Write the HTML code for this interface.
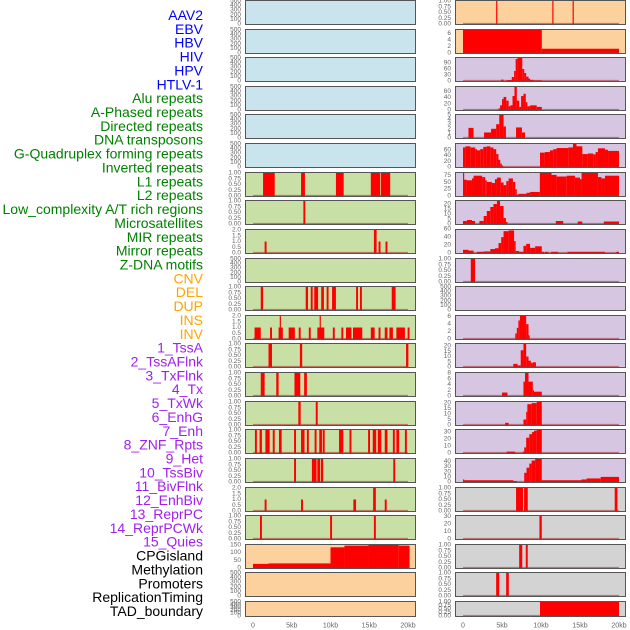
<!DOCTYPE html>
<html><head><meta charset="utf-8"><style>
html,body{margin:0;padding:0;background:#fff;}
svg{display:block;font-family:"Liberation Sans",sans-serif;}
</style></head><body>
<svg id="chart" width="630" height="630" viewBox="0 0 630 630"></svg>
<script>
const trackLabels=["AAV2","EBV","HBV","HIV","HPV","HTLV-1","Alu repeats","A-Phased repeats","Directed repeats","DNA transposons","G-Quadruplex forming repeats","Inverted repeats","L1 repeats","L2 repeats","Low_complexity A/T rich regions","Microsatellites","MIR repeats","Mirror repeats","Z-DNA motifs","CNV","DEL","DUP","INS","INV","1_TssA","2_TssAFlnk","3_TxFlnk","4_Tx","5_TxWk","6_EnhG","7_Enh","8_ZNF_Rpts","9_Het","10_TssBiv","11_BivFlnk","12_EnhBiv","13_ReprPC","14_ReprPCWk","15_Quies","CPGisland","Methylation","Promoters","ReplicationTiming","TAD_boundary"];
const labelGroups=[6,13,5,15,5];
const xTickLabels=["0","5kb","10kb","15kb","20kb"];
const xTickValues=[0,5,10,15,20];
const t500=["0","100","200","300","400","500"];
const t1=["0.00","0.25","0.50","0.75","1.00"];
const t2=["0.0","0.5","1.0","1.5","2.0"];
const L6=[[1.3,2.8,1],[6.2,6.7,1],[10.7,11.7,1],[15.2,16.4,1],[16.5,17.7,1]];
const L7=[[6.5,6.75,1]];
const L8=[[1.5,1.75,1],[15.6,15.95,2],[16.2,16.45,1],[17.1,17.35,1]];
const L10=[[1.0,1.3,1],[6.8,7.1,1],[7.45,7.7,1],[7.9,8.4,1],[8.8,9.15,1],[9.5,9.75,1],[10.2,10.7,1],[13.3,13.55,1],[13.8,14.05,1],[17.9,18.4,1]];
const L11=[[0.2,1.0,1],[2.2,2.45,1],[3.3,3.85,1],[3.45,3.55,2],[4.6,5.4,1],[5.9,6.15,1],[7.2,7.45,1],[8.3,9.2,1],[8.6,8.7,2],[10.3,10.55,1],[11.4,11.65,1],[12.0,12.7,1],[12.9,14.1,1],[15.2,15.7,1],[16.2,16.45,1],[17.0,17.35,1],[17.6,18.05,1],[18.5,19.6,1],[19.95,20.2,1]];
const L12=[[2.0,2.45,1],[6.05,6.35,1],[19.75,20.05,1]];
const L13=[[1.0,1.5,1],[3.0,3.3,1],[5.35,6.1,1],[6.6,6.95,1]];
const L14=[[5.85,6.15,1],[8.1,8.35,1]];
const L15=[[0.25,0.5,1],[0.85,1.15,1],[1.6,2.15,1],[2.55,2.8,1],[3.35,3.7,1],[5.3,5.55,1],[6.2,6.65,1],[6.95,7.2,1],[7.95,8.2,1],[8.55,8.9,1],[9.0,9.25,1],[11.1,11.65,1],[12.45,12.7,1],[14.85,15.1,1],[15.45,15.9,1],[16.1,16.55,1],[17.0,17.35,1],[18.05,18.3,1],[18.5,18.85,1],[19.6,19.85,1]];
const L16=[[5.3,5.55,1],[7.6,8.2,1],[8.3,8.65,1],[8.75,9.05,1],[18.1,18.35,1]];
const L17=[[1.5,1.75,1],[6.2,6.45,1],[12.95,13.3,1],[15.5,15.85,2],[17.0,17.25,1]];
const L18=[[0.9,1.15,1],[9.95,10.2,1],[15.6,15.85,1]];
const L19=[[0,2,27],[2,10,30],[10,11.8,135],[11.8,14.9,146],[14.9,18.8,150],[18.8,20.2,146]];
const R0=[[4.25,4.4,1],[11.45,11.6,1],[14.05,14.2,1]];
const R1=[[0,10.1,7],[10.1,20,1.3]];
const R2=[[4.9,5.2,7],[5.5,5.75,3],[5.75,6.25,5],[6.25,6.55,20],[6.55,6.75,50],[6.75,7.0,110],[7.0,7.6,115],[7.6,7.85,60],[7.85,8.1,40],[8.1,8.4,22],[8.4,8.6,12],[8.6,9.0,6],[9.0,10.1,3]];
const R3=[[4.55,4.75,5],[4.75,5.0,15],[5.0,5.2,35],[5.2,5.55,42],[5.55,5.85,30],[5.85,6.05,12],[6.05,6.35,15],[6.35,6.6,45],[6.6,6.9,74],[6.9,7.2,30],[7.2,7.45,10],[7.45,7.75,45],[7.75,8.05,52],[8.05,8.25,25],[8.25,8.6,12],[8.6,9.45,15],[9.45,10.1,10]];
const R4=[[0.7,1.35,2.2],[2.7,3.6,1.2],[3.6,4.25,2],[4.25,4.65,3],[4.65,5.2,5],[5.2,5.5,2.5],[6.8,7.55,2.3],[7.55,7.95,1.2]];
const R5=[[0,0.3,68],[0.3,0.94,72],[0.94,1.57,68],[1.57,1.8,62],[1.8,2.2,58],[2.2,2.6,62],[2.6,3.06,70],[3.06,3.5,72],[3.5,3.9,68],[3.9,4.26,62],[4.26,4.55,45],[4.55,4.77,25],[4.77,4.98,12],[4.98,5.15,5],[9.87,10.5,50],[10.5,11.15,52],[11.15,11.57,58],[11.57,12.0,62],[12.0,13.5,66],[13.5,14.1,68],[14.1,14.55,80],[14.55,15.3,72],[15.3,16.0,45],[16.0,16.7,47],[16.7,17.0,44],[17.0,17.3,52],[17.3,18.2,65],[18.2,18.6,60],[18.6,20,56]];
const R6=[[0,0.1,85],[0.1,0.5,60],[0.5,1.15,58],[1.15,1.35,65],[1.35,2.45,75],[2.45,2.85,70],[2.85,3.05,58],[3.05,3.7,52],[3.7,4.1,48],[4.1,4.35,62],[4.35,4.85,68],[4.85,5.2,50],[5.2,5.55,40],[5.55,5.85,55],[5.85,6.4,65],[6.4,6.7,52],[6.7,6.9,25],[6.9,7.1,5],[7.1,8.15,8],[8.15,8.6,12],[8.6,9.85,15],[9.85,11.35,85],[11.35,12.0,78],[12.0,13.3,72],[13.3,14.35,75],[14.35,15.0,68],[15.0,15.2,62],[15.2,17.3,85],[17.3,17.75,70],[17.75,18.2,65],[18.2,20,75]];
const R7=[[0,0.5,3],[0.5,1.15,4],[1.15,1.55,3],[2.1,2.65,3],[2.65,3.05,8],[3.05,3.5,13],[3.5,3.9,17],[3.9,4.35,20],[4.35,4.75,23],[4.75,5.2,18],[5.2,5.5,6],[5.5,5.7,2],[11.9,12.85,3],[14.7,15.3,2.5],[18.05,20,2.5]];
const R8=[[0,0.7,8],[0.7,1.35,6],[1.8,2.65,3],[2.65,3.5,4],[3.5,4.1,10],[4.1,4.55,12],[4.55,4.9,25],[4.9,5.2,40],[5.2,5.85,55],[5.85,6.55,57],[6.55,6.75,30],[6.75,7.2,5],[7.2,7.75,3],[7.75,8.1,18],[8.1,8.6,23],[8.6,9.25,13],[9.25,10.1,17],[10.1,10.4,3],[10.5,10.95,3],[11.3,12.2,3],[13.4,18.2,3],[19.65,20,3]];
const R9=[[1.0,1.55,1]];
const R11=[[6.7,6.9,1.5],[6.9,7.1,3],[7.1,7.3,5],[7.3,8.1,6.2],[8.1,8.4,4],[8.4,8.5,1]];
const R12=[[6.45,7.0,3],[7.0,7.4,1.5],[7.4,7.75,16],[7.75,8.1,22],[8.1,8.4,10],[8.4,8.7,6],[8.7,8.95,4],[8.95,9.35,4.5]];
const R13=[[5.0,5.7,1.2],[7.75,7.95,5],[7.95,8.4,8],[8.4,8.95,5],[8.95,9.1,2],[9.1,10.1,1.5]];
const R14=[[5.4,5.85,2],[7.75,8.1,5],[8.1,8.25,12],[8.25,8.8,19],[8.8,9.45,20],[9.45,10.1,21]];
const R15=[[5.6,6.7,2],[7.65,7.85,2],[7.85,8.1,8],[8.1,8.5,22],[8.5,8.85,27],[8.85,9.1,30],[9.1,9.45,32],[9.45,10.1,33]];
const R16=[[0,0.1,5],[0.1,6.45,3.5],[6.45,6.9,2],[7.85,8.15,18],[8.15,8.5,28],[8.5,8.8,36],[8.8,9.25,42],[9.25,10.1,45],[10.1,15.2,3.5],[15.2,15.85,5],[15.85,17.65,7],[17.65,20,10]];
const R17=[[6.8,7.7,1],[7.83,8.3,1],[19.45,19.8,1]];
const R18=[[9.8,10.1,30.4]];
const R19=[[7.2,7.6,1],[8.05,8.3,1]];
const R20=[[4.25,4.64,1],[5.53,5.87,1]];
const R21=[[9.87,20,1]];

const C={blue:"#c9e4ec",green:"#c8e0a6",orange:"#fdd19e",purple:"#d6c6e2",grey:"#d3d3d3"};
const E=null;
const leftPanels=[
 [C.blue,t500,500,E],[C.blue,t500,500,E],[C.blue,t500,500,E],[C.blue,t500,500,E],[C.blue,t500,500,E],[C.blue,t500,500,E],
 [C.green,t1,1,L6],[C.green,t1,1,L7],[C.green,t2,2,L8],[C.green,t500,500,E],[C.green,t1,1,L10],[C.green,t2,2,L11],
 [C.green,t1,1,L12],[C.green,t1,1,L13],[C.green,t1,1,L14],[C.green,t1,1,L15],[C.green,t1,1,L16],[C.green,t2,2,L17],[C.green,t1,1,L18],
 [C.orange,["0","50","100","150"],150,L19],[C.orange,t500,500,E],[C.orange,t500,500,E]];
const rightPanels=[
 [C.orange,t1,1,R0],[C.orange,["0","2","4","6"],7,R1],
 [C.purple,["0","30","60","90"],115,R2],[C.purple,["0","20","40","60"],74,R3],[C.purple,["0","1","2","3","4","5"],5,R4],
 [C.purple,["0","20","40","60"],80,R5],[C.purple,["0","25","50","75"],85,R6],[C.purple,["0","5","10","15","20"],23,R7],
 [C.purple,["0","20","40","60"],58,R8],[C.purple,t1,1,R9],[C.purple,t500,500,E],[C.purple,["0","2","4","6"],6.2,R11],
 [C.purple,["0","5","10","15","20"],22,R12],[C.purple,["0","2","4","6","8"],8,R13],[C.purple,["0","5","10","15","20"],21,R14],
 [C.purple,["0","10","20","30"],33,R15],[C.purple,["0","10","20","30","40"],45,R16],
 [C.grey,t1,1,R17],[C.grey,["0","10","20","30"],30.4,R18],[C.grey,t1,1,R19],[C.grey,t1,1,R20],[C.grey,t1,1,R21]];

const NS="http://www.w3.org/2000/svg";
const svg=document.getElementById('chart');
function mk(tag,attrs,parent){const e=document.createElementNS(NS,tag);for(const k in attrs)e.setAttribute(k,attrs[k]);(parent||svg).appendChild(e);return e;}
const cols=[{x0:245,x1:416,d0:253,d1:408},{x0:455,x1:626,d0:463,d1:619}];
function xs(c,kb){return cols[c].d0+kb*(cols[c].d1-cols[c].d0)/20;}
function rowTop(r){return Math.round(r*28.62);}
function rowH(r){return r===21?16:25;}
function ys(r,v,max){const h=rowH(r);return rowTop(r)+h-1-v/max*(h-2);}

// labels
const labelColors=["#0000ff","#008000","#ffa500","#a020f0","#000000"];
let gi=0,cnt=0;
trackLabels.forEach((t,i)=>{
 const tx=mk('text',{x:203,y:15+i*13.86,'text-anchor':'end','dominant-baseline':'central','font-size':14,fill:labelColors[gi]});
 tx.textContent=t;
 
 
 cnt++; if(cnt>=labelGroups[gi]){gi++;cnt=0;}
});

function drawPanel(c,r,p){
 const [bg,ticks,max,data]=p;
 const g=mk('g',{});
 
 
 const top=rowTop(r),h=rowH(r);
 const bgr=mk('rect',{x:cols[c].x0,y:top,width:cols[c].x1-cols[c].x0,height:h,fill:bg},g);
 
 
 if(data){data.forEach(s=>{
  const x1=xs(c,s[0]),x2=Math.min(xs(c,s[1]),cols[c].x1-1);
  const y=Math.max(ys(r,s[2],max),top+1);
  const b=mk('rect',{x:x1,y:y,width:Math.max(x2-x1,1.2),height:ys(r,0,max)-y,fill:"#ff0000"},g);
  
  
 });
  const bl=mk('line',{x1:xs(c,0),x2:xs(c,20),y1:ys(r,0,max)-0.5,y2:ys(r,0,max)-0.5,stroke:"rgba(170,40,40,0.55)",'stroke-width':1.2},g);
  
  
 }
 mk('rect',{x:cols[c].x0+0.5,y:top+0.5,width:cols[c].x1-cols[c].x0-1,height:h-1,fill:"none",stroke:"#555",'stroke-width':1},g);
 ticks.forEach(t=>{
  const tt=mk('text',{x:cols[c].x0-4,y:ys(r,parseFloat(t),max),'text-anchor':'end','dominant-baseline':'central','font-size':6.5,fill:"#666"},g);
  tt.textContent=t;
  
  
 });
}
leftPanels.forEach((p,r)=>drawPanel(0,r,p));
rightPanels.forEach((p,r)=>drawPanel(1,r,p));
[0,1].forEach(c=>{
 xTickValues.forEach((v,i)=>{
  const t=mk('text',{x:xs(c,v),y:626,'text-anchor':'middle','dominant-baseline':'central','font-size':7,fill:"#666"});
  t.textContent=xTickLabels[i];
  
  
 });
});
</script>
</body></html>
